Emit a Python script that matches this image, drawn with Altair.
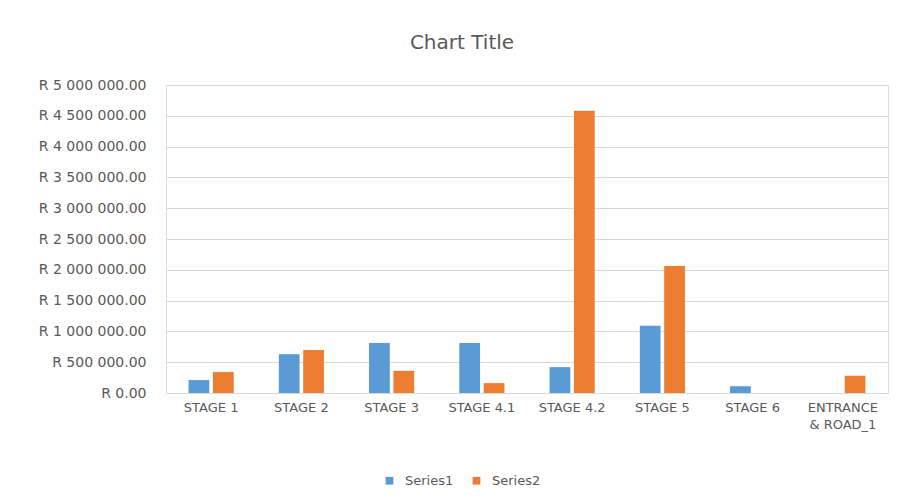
import altair as alt
import pandas as pd

categories = ["STAGE 1", "STAGE 2", "STAGE 3", "STAGE 4.1", "STAGE 4.2", "STAGE 5", "STAGE 6", "ENTRANCE & ROAD_1"]
series1 = [210000, 630000, 810000, 810000, 420000, 1090000, 110000, 0]
series2 = [340000, 700000, 360000, 160000, 4580000, 2060000, 0, 280000]
series_names = ["Series1", "Series2"]

rows = []
for c, a, b in zip(categories, series1, series2):
    rows.append({"cat": c, "series": series_names[0], "value": a})
    rows.append({"cat": c, "series": series_names[1], "value": b})
df = pd.DataFrame(rows)

font = "DejaVu Sans"
grey = "#595959"

chart = alt.Chart(df).mark_bar().encode(
    x=alt.X("cat:N", sort=categories, title=None,
            scale=alt.Scale(paddingInner=0.5, paddingOuter=0.25),
            axis=alt.Axis(labelAngle=0, labelColor=grey, labelFont=font, labelFontSize=13,
                          domainColor="#D9D9D9", ticks=False, labelPadding=8, labelLineHeight=17,
                          labelExpr="datum.label == 'ENTRANCE & ROAD_1' ? ['ENTRANCE', '& ROAD_1'] : datum.label")),
    xOffset=alt.XOffset("series:N", sort=series_names, scale=alt.Scale(paddingInner=0.15)),
    y=alt.Y("value:Q", title=None,
            scale=alt.Scale(domain=[0, 5000000]),
            axis=alt.Axis(values=[i * 500000 for i in range(11)], labelColor=grey, labelFont=font,
                          labelFontSize=14, domain=False, ticks=False, labelPadding=20,
                          gridColor="#D9D9D9",
                          labelExpr="'R ' + replace(format(datum.value, ',.2f'), regexp(',', 'g'), ' ')")),
    color=alt.Color("series:N", sort=series_names,
                    scale=alt.Scale(domain=series_names, range=["#5B9BD5", "#ED7D31"]),
                    legend=alt.Legend(title=None, orient="none", direction="horizontal",
                                      legendX=217, legendY=389, labelColor=grey, labelFont=font,
                                      labelFontSize=13, symbolType="square", symbolSize=60,
                                      columnPadding=16, labelOffset=9)),
).properties(
    width=722,
    height=308,
    title=alt.TitleParams("Chart Title", font=font, fontSize=20, fontWeight="normal",
                          color=grey, anchor="middle", dx=-65, offset=25),
    autosize=alt.AutoSizeParams(type="none"),
    padding={"left": 166, "top": 85, "right": 9, "bottom": 110},
).configure_view(stroke=None).configure(background="white")

chart.save("out.html", embed_options={"renderer": "svg", "actions": False})
